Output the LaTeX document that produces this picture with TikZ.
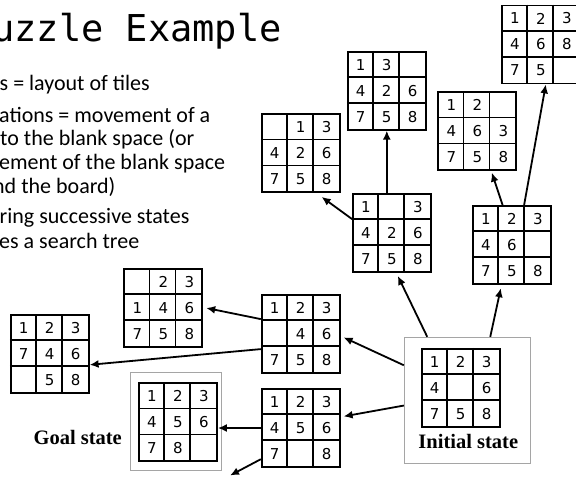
\documentclass[tikz,border=0pt]{standalone}
\usepackage{fontspec}
\usetikzlibrary{arrows.meta,calc}
\newfontfamily\titlefont{DejaVu Sans Mono}
\newfontfamily\bodyfont{Carlito}
\newfontfamily\tilefont{DejaVu Sans}
\newfontfamily\captionfont{Liberation Serif}
\definecolor{framegray}{RGB}{165,165,165}

\tikzset{
  board/.style={draw, line width=1.8pt, minimum size=78pt, inner sep=0pt},
  cellline/.style={line width=1.8pt},
  tile/.style={font=\tilefont\fontsize{15}{15}\selectfont, inner sep=0pt},
  move/.style={line width=1.8pt, -{Latex[length=9pt,width=8pt]}},
  statebox/.style={draw=framegray, line width=0.9pt, inner sep=0pt},
  caption/.style={font=\captionfont\bfseries\fontsize{20.5}{22}\selectfont, inner sep=0pt},
  bulletline/.style={font=\bodyfont\fontsize{22}{24}\selectfont, anchor=base west, inner sep=0pt},
}

% 3x3 sliding-tile board: name, left x, top y, nine entries row by row
\newcommand\puzzleboard[4]{%
  \node[board] (#1) at (#2+39,#3+39) {};
  \foreach \t in {26,52} {
    \draw[cellline] ([xshift=\t pt]#1.north west) -- ([xshift=\t pt]#1.south west);
    \draw[cellline] ([yshift=-\t pt]#1.north west) -- ([yshift=-\t pt]#1.north east);
  }
  \foreach \v [count=\k from 0] in {#4} {
    \pgfmathtruncatemacro\rowi{\k/3}
    \pgfmathtruncatemacro\coli{\k-3*\rowi}
    \node[tile] at (#2+13+26*\coli, #3+13+26*\rowi) {\v};
  }
}

\begin{document}
\begin{tikzpicture}[x=1pt, y=-1pt]
\useasboundingbox (0,0) rectangle (576,477);
\clip (0,0) rectangle (576,477);

% heading and bullet text
\node[anchor=base west, inner sep=0pt, font=\titlefont\fontsize{37}{40}\selectfont] (title) at (-8,41.7) {uzzle Example};
\node[bulletline] (b1) at (-0.5,90.5) {s = layout of tiles};
\node[bulletline] (b2) at (-1,122.5) {ations = movement of a};
\node[bulletline] (b3) at (0,145.7) {to the blank space (or};
\node[bulletline] (b4) at (-1,169.3) {ement of the blank space};
\node[bulletline] (b5) at (-7,193.3) {nd the board)};
\node[bulletline] (b6) at (-0.5,223.3) {ring successive states};
\node[bulletline] (b7) at (-1,248.3) {es a search tree};

% framed start and goal states
\node[statebox, minimum width=125.7pt, minimum height=126pt] (initbox) at (467.15,400.3) {};
\node[statebox, minimum width=91.7pt, minimum height=97.7pt] (goalbox) at (175.85,421.15) {};
\node[caption, anchor=base] (initlabel) at (468.3,448.3) {Initial state};
\node[caption, anchor=base east] (goallabel) at (122,444.5) {Goal state};

% boards of the search tree
\puzzleboard{g1}{502}{5.5}{1,2,3,4,6,8,7,5, }
\puzzleboard{g2}{347.7}{51.7}{1,3, ,4,2,6,7,5,8}
\puzzleboard{g3}{438.3}{92.3}{1,2, ,4,6,3,7,5,8}
\puzzleboard{g4}{261.7}{114.3}{ ,1,3,4,2,6,7,5,8}
\puzzleboard{g5}{353}{194}{1, ,3,4,2,6,7,5,8}
\puzzleboard{g6}{473}{206}{1,2,3,4,6, ,7,5,8}
\puzzleboard{init}{421.7}{348.7}{1,2,3,4, ,6,7,5,8}
\puzzleboard{g8}{261.7}{295}{1,2,3, ,4,6,7,5,8}
\puzzleboard{g9}{124.3}{269}{ ,2,3,1,4,6,7,5,8}
\puzzleboard{g10}{10.7}{315}{1,2,3,7,4,6, ,5,8}
\puzzleboard{g11}{261.7}{389}{1,2,3,4,5,6,7, ,8}
\puzzleboard{goal}{139}{383.3}{1,2,3,4,5,6,7,8, }

\coordinate (astray) at (230,475.5);

% moves
\draw[move] ([xshift=23.4pt]initbox.north west) -- ([xshift=45.7pt,yshift=-3pt]g5.south west);
\draw[move] ([xshift=86.4pt]initbox.north west) -- ([xshift=28.7pt,yshift=-3.3pt]g6.south west);
\draw[move] ([yshift=-28.4pt]initbox.north west) -- ([xshift=3pt,yshift=-43.3pt]g8.north east);
\draw[move] ([yshift=-68.7pt]initbox.north west) -- ([xshift=3pt,yshift=-28.3pt]g11.north east);
\draw[move] (g11.west) -- (g11.west -| goal.east);
\draw[move] ([yshift=8.7pt]g11.south west) -- (astray);
\draw[move] ([yshift=-25pt]g8.north west) -- ([xshift=3pt]g9.east);
\draw[move] ([yshift=-55pt]g8.north west) -- ([yshift=-50.7pt]g10.north east);
\draw[move] ([xshift=34.7pt]g5.north west) -- ([xshift=34.7pt]g5.north west |- g2.south);
\draw[move] ([yshift=-26pt]g5.north west) -- ([xshift=-19pt,yshift=-3.7pt]g4.south east);
\draw[move] ([xshift=30.5pt]g6.north west) -- ([xshift=54.4pt,yshift=-1.4pt]g3.south west);
\draw[move] ([xshift=52pt]g6.north west) -- ([xshift=44.7pt]g1.south west);
\end{tikzpicture}
\end{document}
